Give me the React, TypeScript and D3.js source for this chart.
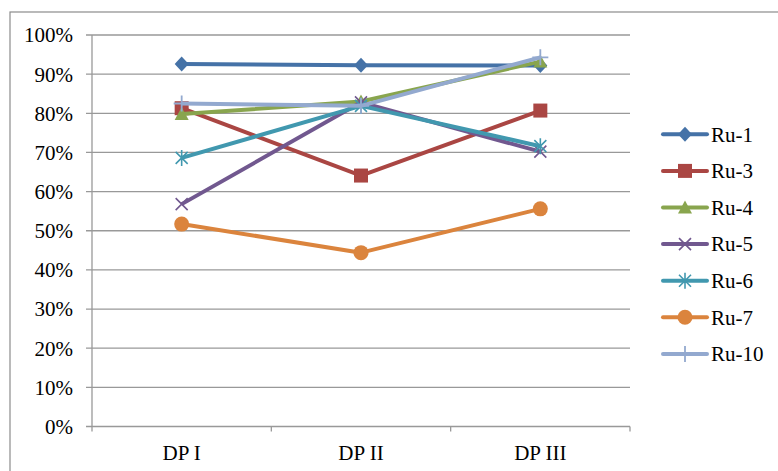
import React from "react";
import * as d3 from "d3";

const categories = ["DP I", "DP II", "DP III"];
const seriesNames = ["Ru-1", "Ru-3", "Ru-4", "Ru-5", "Ru-6", "Ru-7", "Ru-10"];
const ru1 = [0.926, 0.923, 0.922];
const ru3 = [0.813, 0.641, 0.807];
const ru4 = [0.798, 0.83, 0.932];
const ru5 = [0.568, 0.828, 0.702];
const ru6 = [0.686, 0.819, 0.716];
const ru7 = [0.517, 0.444, 0.556];
const ru10 = [0.825, 0.819, 0.943];
const yTicks = [0, 0.1, 0.2, 0.3, 0.4, 0.5, 0.6, 0.7, 0.8, 0.9, 1.0];

const colors = ["#4572A7", "#AA4643", "#89A54E", "#71588F", "#4198AF", "#DB843D", "#93A9CF"];
const markers = ["diamond", "square", "triangle", "x", "star", "circle", "plus"];
const seriesValues = [ru1, ru3, ru4, ru5, ru6, ru7, ru10];

const W = 778, H = 471;
const left = 92, right = 630, top = 35, bottom = 426.5;

function Marker({ type, x, y, color }: { type: string; x: number; y: number; color: string }) {
  const s = 7;
  switch (type) {
    case "diamond":
      return <path d={`M${x},${y - s - 0.5}L${x + s},${y}L${x},${y + s + 0.5}L${x - s},${y}Z`} fill={color} />;
    case "square":
      return <rect x={x - s} y={y - s} width={2 * s} height={2 * s} fill={color} />;
    case "triangle":
      return <path d={`M${x},${y - s}L${x + s},${y + s - 1}L${x - s},${y + s - 1}Z`} fill={color} />;
    case "x":
      return <path d={`M${x - 6},${y - 6}L${x + 6},${y + 6}M${x - 6},${y + 6}L${x + 6},${y - 6}`} stroke={color} strokeWidth={1.6} />;
    case "star":
      return <path d={`M${x - 6},${y - 6}L${x + 6},${y + 6}M${x - 6},${y + 6}L${x + 6},${y - 6}M${x},${y - 8}L${x},${y + 8}`} stroke={color} strokeWidth={1.6} />;
    case "circle":
      return <circle cx={x} cy={y} r={7.5} fill={color} />;
    case "plus":
      return <path d={`M${x - 8},${y}L${x + 8},${y}M${x},${y - 8}L${x},${y + 8}`} stroke={color} strokeWidth={1.8} />;
  }
  return null;
}

export default function App() {
  const x = d3.scaleBand<string>().domain(categories).range([left, right]);
  const y = d3.scaleLinear().domain([0, 1]).range([bottom, top]);
  const line = d3.line<number>()
    .x((_, i) => (x(categories[i]) as number) + x.bandwidth() / 2)
    .y((d) => y(d));
  const fmt = d3.format(".0%");
  const legendX = 663, legendY0 = 134.3, legendStep = 36.6;

  return (
    <svg width={W} height={H} style={{ position: "absolute", left: 0, top: 0 }} fontFamily="'Liberation Serif', 'Times New Roman', serif">
      <rect x={0} y={0} width={W} height={H} fill="#fff" />
      <rect x={10} y={12} width={W} height={H} fill="none" stroke="#8c8c8c" strokeWidth={1.2} />
      {yTicks.map((t) => (
        <g key={t}>
          <line x1={left - 6} x2={right} y1={y(t)} y2={y(t)} stroke="#999" strokeWidth={1.3} />
          <text x={73} y={y(t)} dy="0.35em" textAnchor="end" fontSize={21} fill="#000">{fmt(t)}</text>
        </g>
      ))}
      <line x1={left} x2={left} y1={top} y2={bottom + 5} stroke="#999" strokeWidth={1.3} />
      {categories.map((c) => (
        <g key={c}>
          <line x1={(x(c) as number) + x.bandwidth()} x2={(x(c) as number) + x.bandwidth()} y1={bottom} y2={bottom + 5} stroke="#999" strokeWidth={1.3} />
          <text x={(x(c) as number) + x.bandwidth() / 2} y={bottom + 33} textAnchor="middle" fontSize={21} fill="#000">{c}</text>
        </g>
      ))}
      {seriesValues.map((vals, si) => (
        <g key={seriesNames[si]}>
          <path d={line(vals) as string} fill="none" stroke={colors[si]} strokeWidth={4} strokeLinejoin="round" />
          {vals.map((v, i) => (
            <Marker key={i} type={markers[si]} x={(x(categories[i]) as number) + x.bandwidth() / 2} y={y(v)} color={colors[si]} />
          ))}
        </g>
      ))}
      {seriesNames.map((n, si) => {
        const ly = legendY0 + si * legendStep;
        return (
          <g key={n}>
            <line x1={legendX} x2={legendX + 44} y1={ly} y2={ly} stroke={colors[si]} strokeWidth={4} strokeLinecap="round" />
            <Marker type={markers[si]} x={legendX + 22} y={ly} color={colors[si]} />
            <text x={711} y={ly} dy="0.35em" fontSize={21} fill="#000">{n}</text>
          </g>
        );
      })}
    </svg>
  );
}
